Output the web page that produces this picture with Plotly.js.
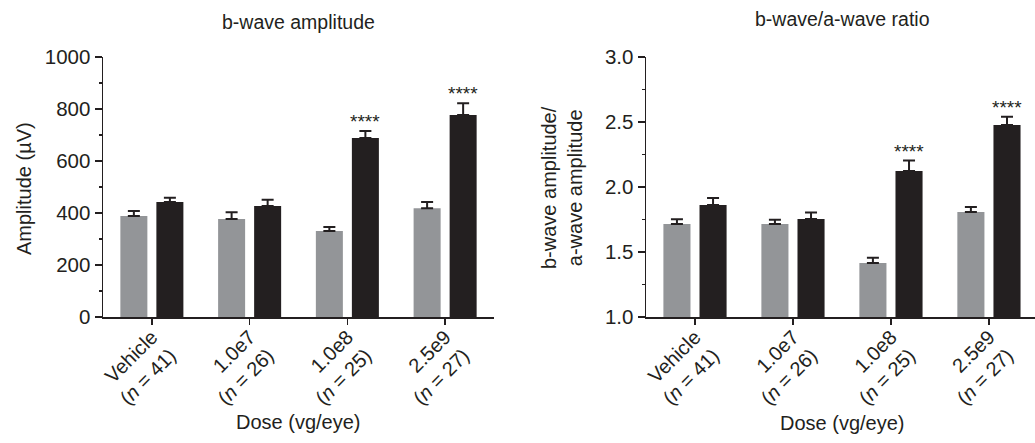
<!DOCTYPE html>
<html>
<head>
<meta charset="utf-8">
<script src="https://cdn.plot.ly/plotly-3.0.1.min.js"></script>
<style>html,body{margin:0;padding:0;background:#fff;}#chart{width:1035px;height:443px;}</style>
</head>
<body>
<div id="chart"></div>
<script>
// ---- data ----
const doses = ["Vehicle", "1.0e7", "1.0e8", "2.5e9"];
const nCounts = [41, 26, 25, 27];
// b-wave amplitude (µV)
const ampGray = [388, 377, 331, 418];
const ampGrayErr = [20, 26, 15, 24];
const ampBlack = [442, 427, 688, 777];
const ampBlackErr = [17, 24, 27, 45];
// b-wave / a-wave ratio
const ratioGray = [1.715, 1.715, 1.415, 1.808];
const ratioGrayErr = [0.036, 0.034, 0.04, 0.038];
const ratioBlack = [1.862, 1.754, 2.123, 2.477];
const ratioBlackErr = [0.053, 0.05, 0.08, 0.064];
// significance marks on black bars
const ampSig = ["", "", "****", "****"];
const ratioSig = ["", "", "****", "****"];

const tickLabels = doses.map((d, i) => d + "<br>(<i>n</i> = " + nCounts[i] + ")");

const GRAY = "#939598";
const BLACK = "#231f20";
const INK = "#231f20";
const FONT = "Liberation Sans, Arial, Helvetica, sans-serif";

function barTrace(y, err, color, xa, ya) {
  return {
    type: "bar", x: doses, y: y, xaxis: xa, yaxis: ya,
    marker: {color: color, line: {width: 0}},
    error_y: {type: "data", array: err, arrayminus: err.map(() => 0), symmetric: false,
              color: INK, thickness: 2, width: 6},
    hoverinfo: "skip", showlegend: false
  };
}

const data = [
  barTrace(ampGray, ampGrayErr, GRAY, "x", "y"),
  barTrace(ampBlack, ampBlackErr, BLACK, "x", "y"),
  barTrace(ratioGray, ratioGrayErr, GRAY, "x2", "y2"),
  barTrace(ratioBlack, ratioBlackErr, BLACK, "x2", "y2")
];

const yDom = [126 / 443, 386 / 443];
const xAxisCommon = {
  type: "category", tickmode: "array", tickvals: doses, ticktext: tickLabels,
  tickangle: -45, ticks: "outside", ticklen: 6, tickwidth: 1.5, tickcolor: INK,
  ticklabelstandoff: -7,
  showline: true, linecolor: INK, linewidth: 1.5, showgrid: false, zeroline: false,
  tickfont: {family: FONT, size: 20, color: INK}, fixedrange: true
};
const yAxisCommon = {
  ticks: "outside", ticklen: 7, tickwidth: 1.5, tickcolor: INK,
  showline: true, linecolor: INK, linewidth: 1.5, showgrid: false, zeroline: false,
  tickfont: {family: FONT, size: 20.5, color: INK}, domain: yDom, fixedrange: true
};

const annotations = [];
function addSig(sig, vals, errs, xref, yref) {
  sig.forEach((s, i) => {
    if (!s) return;
    annotations.push({x: i, y: vals[i] + errs[i], xref: xref, yref: yref,
      text: s, showarrow: false, xshift: 18, yshift: -3, xanchor: "center", yanchor: "bottom",
      font: {family: FONT, size: 19, color: INK}});
  });
}
addSig(ampSig, ampBlack, ampBlackErr, "x", "y");
addSig(ratioSig, ratioBlack, ratioBlackErr, "x2", "y2");

function txt(text, x, y, opts) {
  return Object.assign({xref: "paper", yref: "paper", x: x, y: y, text: text, showarrow: false,
    xanchor: "center", yanchor: "middle", font: {family: FONT, size: 20, color: INK}}, opts || {});
}
annotations.push(txt("b-wave amplitude", 298.5 / 1035, 1 - 22 / 443, {font: {family: FONT, size: 19.5, color: INK}}));
annotations.push(txt("b-wave/a-wave ratio", 842 / 1035, 1 - 19 / 443, {font: {family: FONT, size: 19.5, color: INK}}));
annotations.push(txt("Dose (vg/eye)", 298 / 1035, 1 - 422 / 443));
annotations.push(txt("Dose (vg/eye)", 842 / 1035, 1 - 423 / 443));
annotations.push(txt("Amplitude (µV)", 24 / 1035, 1 - 189 / 443, {textangle: -90}));
annotations.push(txt("b-wave amplitude/<br>a-wave amplitude", 562 / 1035, 1 - 188 / 443, {textangle: -90}));

const layout = {
  width: 1035, height: 443,
  margin: {l: 0, r: 0, t: 0, b: 0},
  paper_bgcolor: "#fff", plot_bgcolor: "#fff",
  barmode: "group", bargap: 0.263, bargroupgap: 0.25,
  font: {family: FONT, color: INK},
  xaxis: Object.assign({}, xAxisCommon, {domain: [103 / 1035, 494 / 1035], range: [-0.5, 3.5], anchor: "y"}),
  yaxis: Object.assign({}, yAxisCommon, {range: [0, 1000], tickvals: [0, 200, 400, 600, 800, 1000],
    minor: {tickvals: [100, 300, 500, 700, 900], ticks: "outside", ticklen: 3, tickwidth: 1.5, tickcolor: INK}, anchor: "x"}),
  xaxis2: Object.assign({}, xAxisCommon, {domain: [646 / 1035, 1], range: [-0.5, 3.47], anchor: "y2"}),
  yaxis2: Object.assign({}, yAxisCommon, {range: [1, 3], tickvals: [1, 1.5, 2, 2.5, 3],
    ticktext: ["1.0", "1.5", "2.0", "2.5", "3.0"],
    minor: {tickvals: [1.25, 1.75, 2.25, 2.75], ticks: "outside", ticklen: 3, tickwidth: 1.5, tickcolor: INK}, anchor: "x2"}),
  annotations: annotations
};

Plotly.newPlot("chart", data, layout, {displayModeBar: false, staticPlot: true});
</script>
</body>
</html>
